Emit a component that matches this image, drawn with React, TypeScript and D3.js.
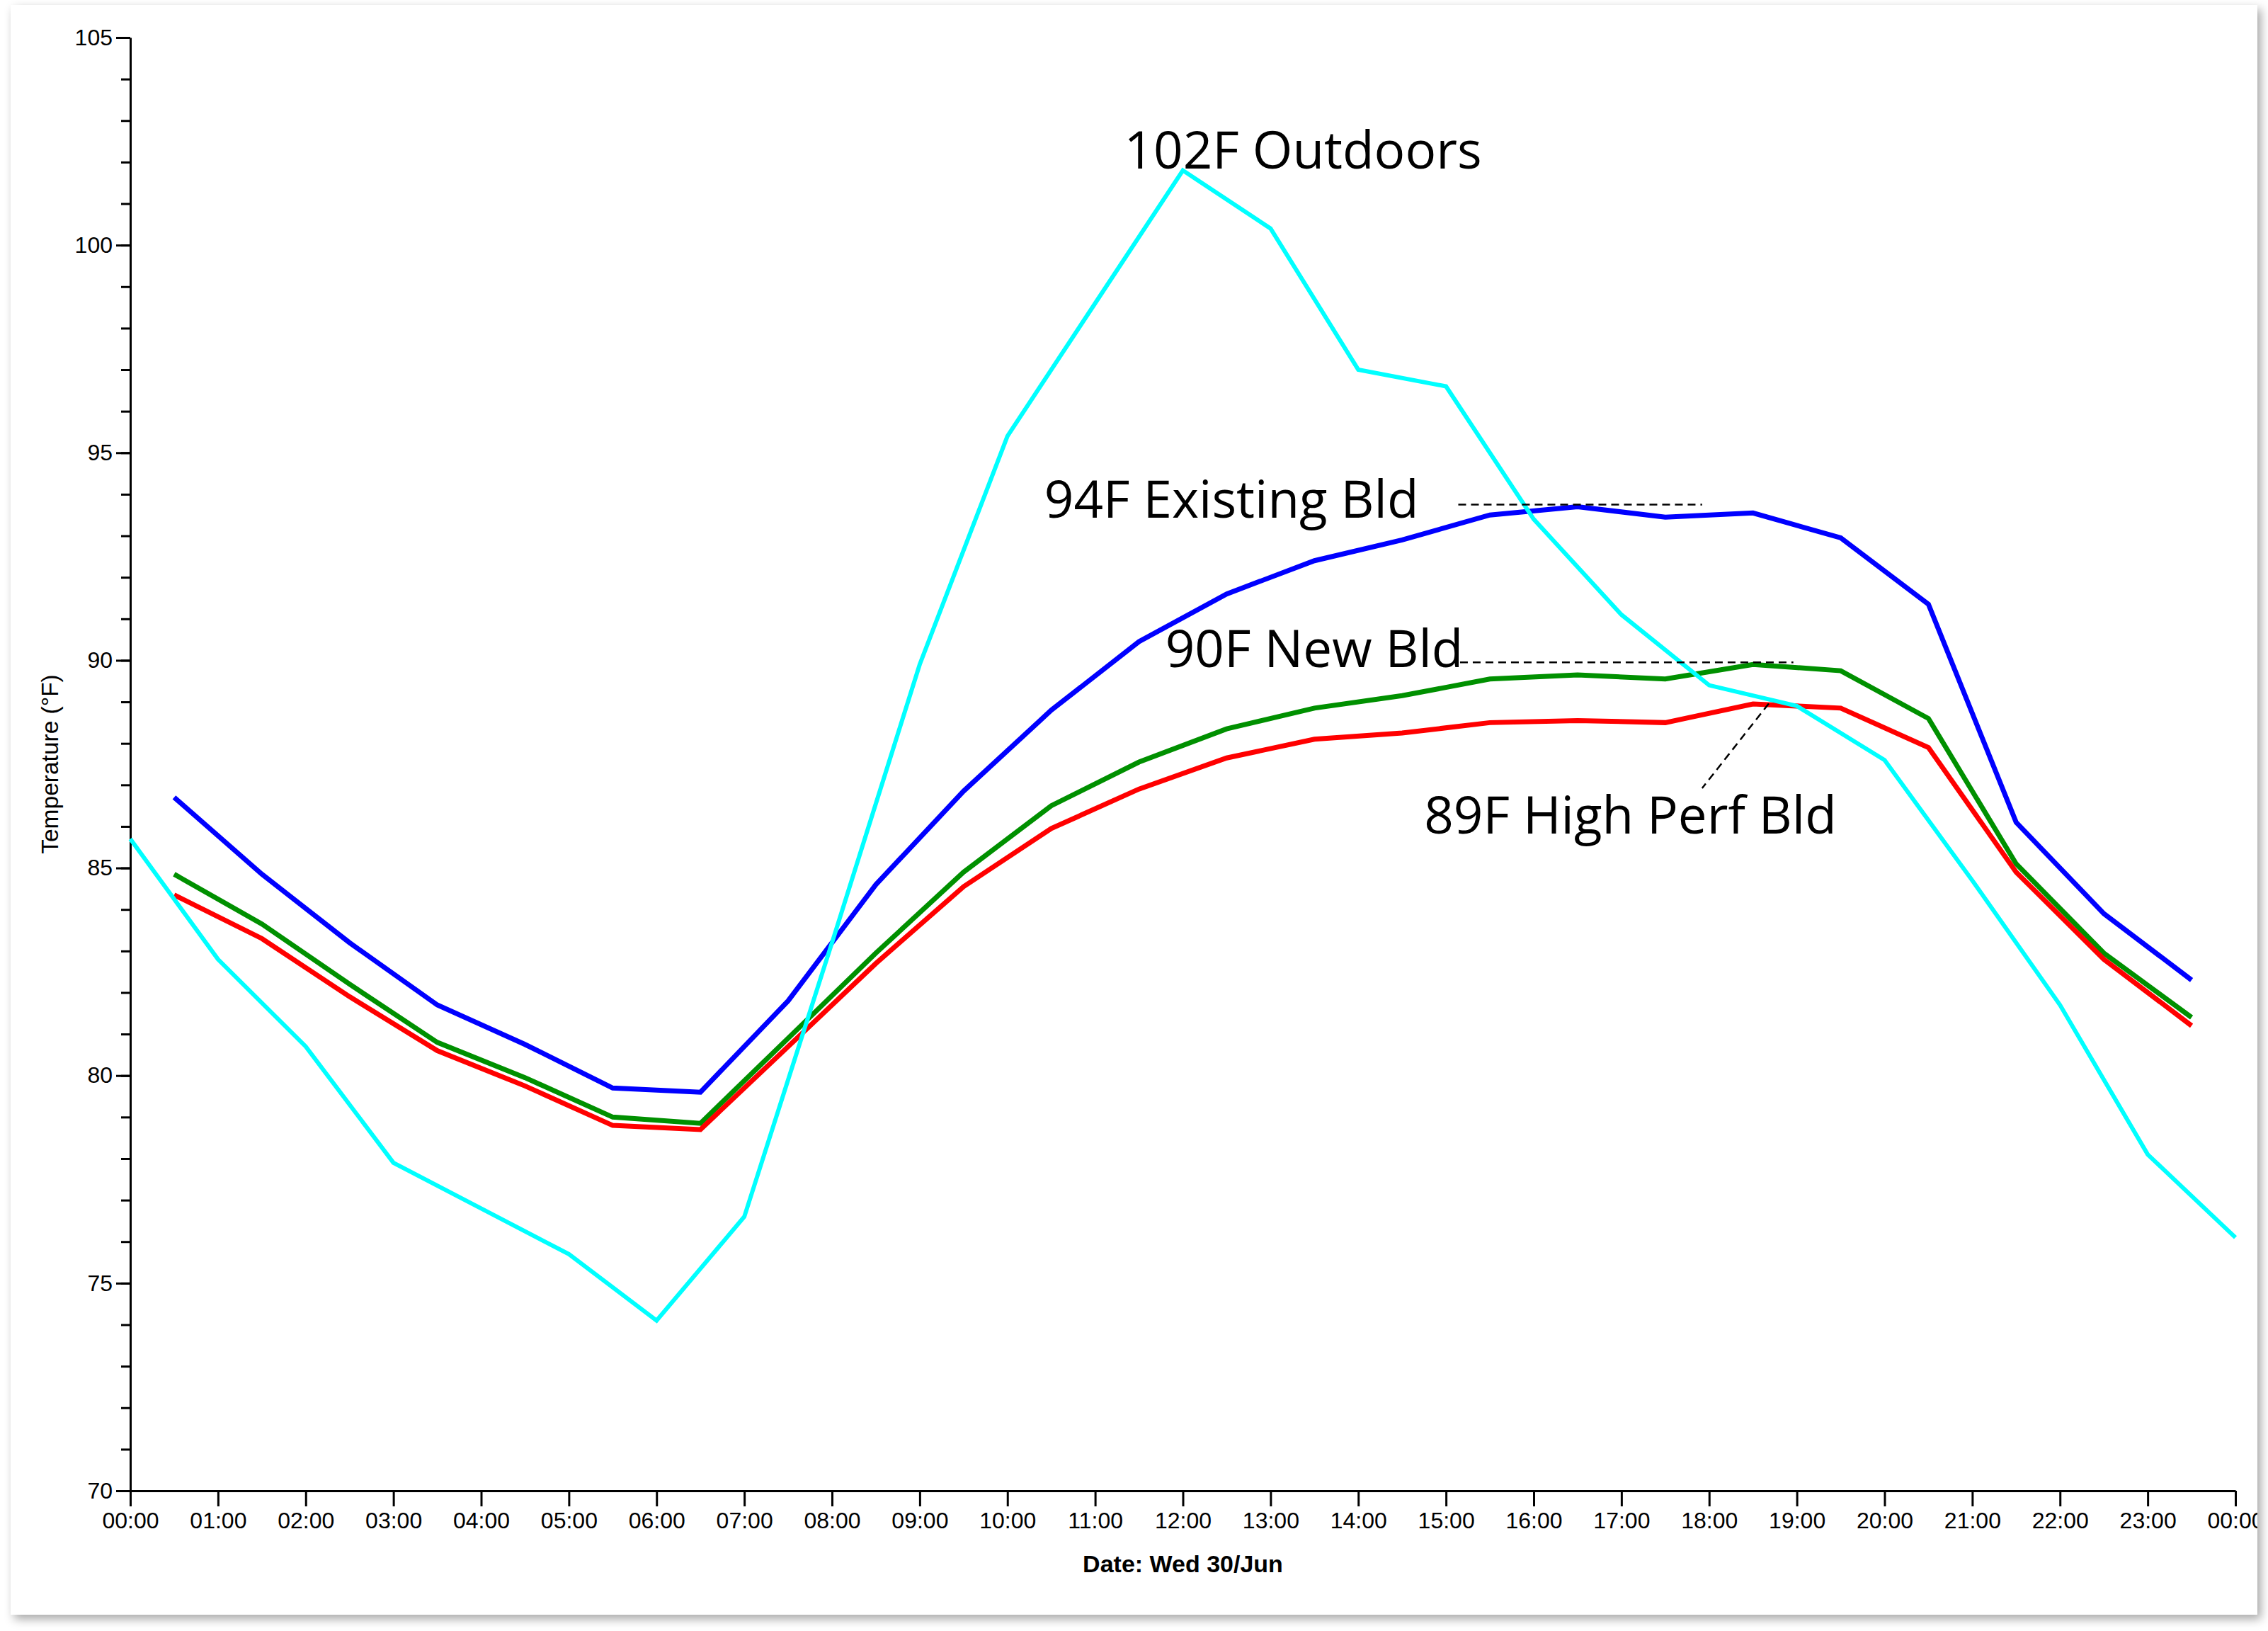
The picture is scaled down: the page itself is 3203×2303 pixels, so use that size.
import React, { useRef, useEffect } from 'react';
import * as d3 from 'd3';

// Outdoor temperature, hourly from 00:00 to 24:00
const outdoorHours = d3.range(0, 25);
const outdoorTemps = [
  85.7, 82.8, 80.7, 77.9, 76.8, 75.7, 74.1, 76.6, 83.2, 89.9, 95.4, 98.6, 101.8,
  100.4, 97.0, 96.6, 93.4, 91.1, 89.4, 88.9, 87.6, 84.7, 81.7, 78.1, 76.1,
];

// Building temperatures, half-hourly from 00:30 to 23:30
const bldHours = d3.range(0.5, 24, 1);
const existingBld = [
  86.7, 84.85, 83.2, 81.7, 80.75, 79.7, 79.6, 81.8, 84.6, 86.85, 88.8, 90.45,
  91.6, 92.4, 92.9, 93.5, 93.7, 93.45, 93.55, 92.95, 91.35, 86.1, 83.9, 82.3,
];
const newBld = [
  84.85, 83.65, 82.2, 80.8, 79.95, 79.0, 78.85, 80.9, 82.95, 84.9, 86.5, 87.55,
  88.35, 88.85, 89.15, 89.55, 89.65, 89.55, 89.9, 89.75, 88.6, 85.1, 82.95, 81.4,
];
const highPerfBld = [
  84.35, 83.3, 81.9, 80.6, 79.75, 78.8, 78.7, 80.7, 82.7, 84.55, 85.95, 86.9,
  87.65, 88.1, 88.25, 88.5, 88.55, 88.5, 88.95, 88.85, 87.9, 84.9, 82.8, 81.2,
];

const yMajorTicks = [70, 75, 80, 85, 90, 95, 100, 105];

const DAY = new Date(2021, 5, 30);
const at = (h: number) => new Date(DAY.getTime() + h * 3600 * 1000);

function App() {
  const svgRef = useRef<SVGSVGElement>(null);

  useEffect(() => {
    const W = 3203;
    const H = 2303;
    const card = { x: 15, y: 7, w: 3173, h: 2273 };
    const plot = { left: 184, right: 3157, top: 53, bottom: 2105 };

    const root = d3.select(svgRef.current);
    root.selectAll('*').remove();
    root.attr('width', W).attr('height', H);

    const defs = root.append('defs');
    defs.append('filter')
      .attr('id', 'shadow')
      .attr('x', '-5%').attr('y', '-5%').attr('width', '110%').attr('height', '110%')
      .append('feDropShadow')
      .attr('dx', 5).attr('dy', 6)
      .attr('stdDeviation', 7)
      .attr('flood-color', '#000')
      .attr('flood-opacity', 0.35);
    defs.append('clipPath').attr('id', 'cardClip')
      .append('rect')
      .attr('x', card.x).attr('y', card.y).attr('width', card.w).attr('height', card.h);

    root.append('rect').attr('width', W).attr('height', H).attr('fill', '#ffffff');
    root.append('rect')
      .attr('x', card.x).attr('y', card.y).attr('width', card.w).attr('height', card.h)
      .attr('fill', '#ffffff')
      .attr('filter', 'url(#shadow)');

    const svg = root.append('g').attr('clip-path', 'url(#cardClip)');

    const x = d3.scaleTime().domain([at(0), at(24)]).range([plot.left, plot.right]);
    const y = d3.scaleLinear().domain([70, 105]).range([plot.bottom, plot.top]);

    // Y axis: minor ticks every degree, labelled majors every 5
    const yMinor = svg.append('g')
      .attr('transform', `translate(${plot.left},0)`)
      .call(d3.axisLeft(y).tickValues(d3.range(70, 106, 1)).tickSize(13).tickSizeOuter(0).tickFormat(() => ''));
    yMinor.select('.domain').remove();
    yMinor.selectAll('line').attr('stroke', '#000').attr('stroke-width', 3);

    const yAxis = svg.append('g')
      .attr('transform', `translate(${plot.left},0)`)
      .call(d3.axisLeft(y).tickValues(yMajorTicks).tickSize(20).tickPadding(5).tickSizeOuter(0));
    yAxis.select('.domain').attr('stroke', '#000').attr('stroke-width', 3);
    yAxis.selectAll('line').attr('stroke', '#000').attr('stroke-width', 3);
    yAxis.selectAll('text')
      .attr('font-family', 'Liberation Sans, Arial, sans-serif')
      .attr('font-size', 32)
      .attr('fill', '#000');

    // X axis: hourly ticks
    const xAxis = svg.append('g')
      .attr('transform', `translate(0,${plot.bottom})`)
      .call(
        d3.axisBottom(x)
          .ticks(d3.timeHour.every(1))
          .tickFormat(d3.timeFormat('%H:%M') as any)
          .tickSize(22)
          .tickPadding(8)
          .tickSizeOuter(0)
      );
    xAxis.select('.domain').attr('stroke', '#000').attr('stroke-width', 3);
    xAxis.selectAll('line').attr('stroke', '#000').attr('stroke-width', 3);
    xAxis.selectAll('text')
      .attr('font-family', 'Liberation Sans, Arial, sans-serif')
      .attr('font-size', 32)
      .attr('fill', '#000');

    // Axis titles
    svg.append('text')
      .attr('transform', `translate(82,${(plot.top + plot.bottom) / 2}) rotate(-90)`)
      .attr('text-anchor', 'middle')
      .attr('font-family', 'Liberation Sans, Arial, sans-serif')
      .attr('font-size', 33.5)
      .text('Temperature (°F)');

    svg.append('text')
      .attr('x', (plot.left + plot.right) / 2)
      .attr('y', 2220)
      .attr('text-anchor', 'middle')
      .attr('font-family', 'Liberation Sans, Arial, sans-serif')
      .attr('font-size', 34)
      .attr('font-weight', 'bold')
      .text('Date: Wed 30/Jun');

    // Series
    const line = d3.line<[number, number]>()
      .x(d => x(at(d[0])))
      .y(d => y(d[1]));

    const series = [
      { hours: bldHours, values: existingBld, color: '#0000ff', width: 7 },
      { hours: bldHours, values: newBld, color: '#009000', width: 7 },
      { hours: bldHours, values: highPerfBld, color: '#ff0000', width: 7 },
      { hours: outdoorHours, values: outdoorTemps, color: '#00ffff', width: 6 },
    ];

    series.forEach(s => {
      svg.append('path')
        .datum(s.hours.map((h, i) => [h, s.values[i]] as [number, number]))
        .attr('fill', 'none')
        .attr('stroke', s.color)
        .attr('stroke-width', s.width)
        .attr('d', line);
    });

    // Annotations
    const notes = [
      { text: '102F Outdoors', h: 11.33, v: 101.84 },
      { text: '94F Existing Bld', h: 10.42, v: 93.43 },
      { text: '90F New Bld', h: 11.8, v: 89.83 },
      { text: '89F High Perf Bld', h: 14.75, v: 85.82 },
    ];
    notes.forEach(n => {
      svg.append('text')
        .attr('x', x(at(n.h)))
        .attr('y', y(n.v))
        .attr('font-family', 'Open Sans, sans-serif')
        .attr('font-size', 72.8)
        .attr('fill', '#000')
        .text(n.text);
    });

    const leaders = [
      { h1: 15.14, v1: 93.75, h2: 17.92, v2: 93.75 },
      { h1: 15.16, v1: 89.95, h2: 18.96, v2: 89.95 },
      { h1: 18.68, v1: 88.96, h2: 17.92, v2: 86.92 },
    ];
    leaders.forEach(l => {
      svg.append('line')
        .attr('x1', x(at(l.h1))).attr('y1', y(l.v1))
        .attr('x2', x(at(l.h2))).attr('y2', y(l.v2))
        .attr('stroke', '#000')
        .attr('stroke-width', 2.5)
        .attr('stroke-dasharray', '11,7');
    });
  }, []);

  return (
    <div style={{ position: 'absolute', left: 0, top: 0 }}>
      <svg ref={svgRef}></svg>
    </div>
  );
}

export default App;
